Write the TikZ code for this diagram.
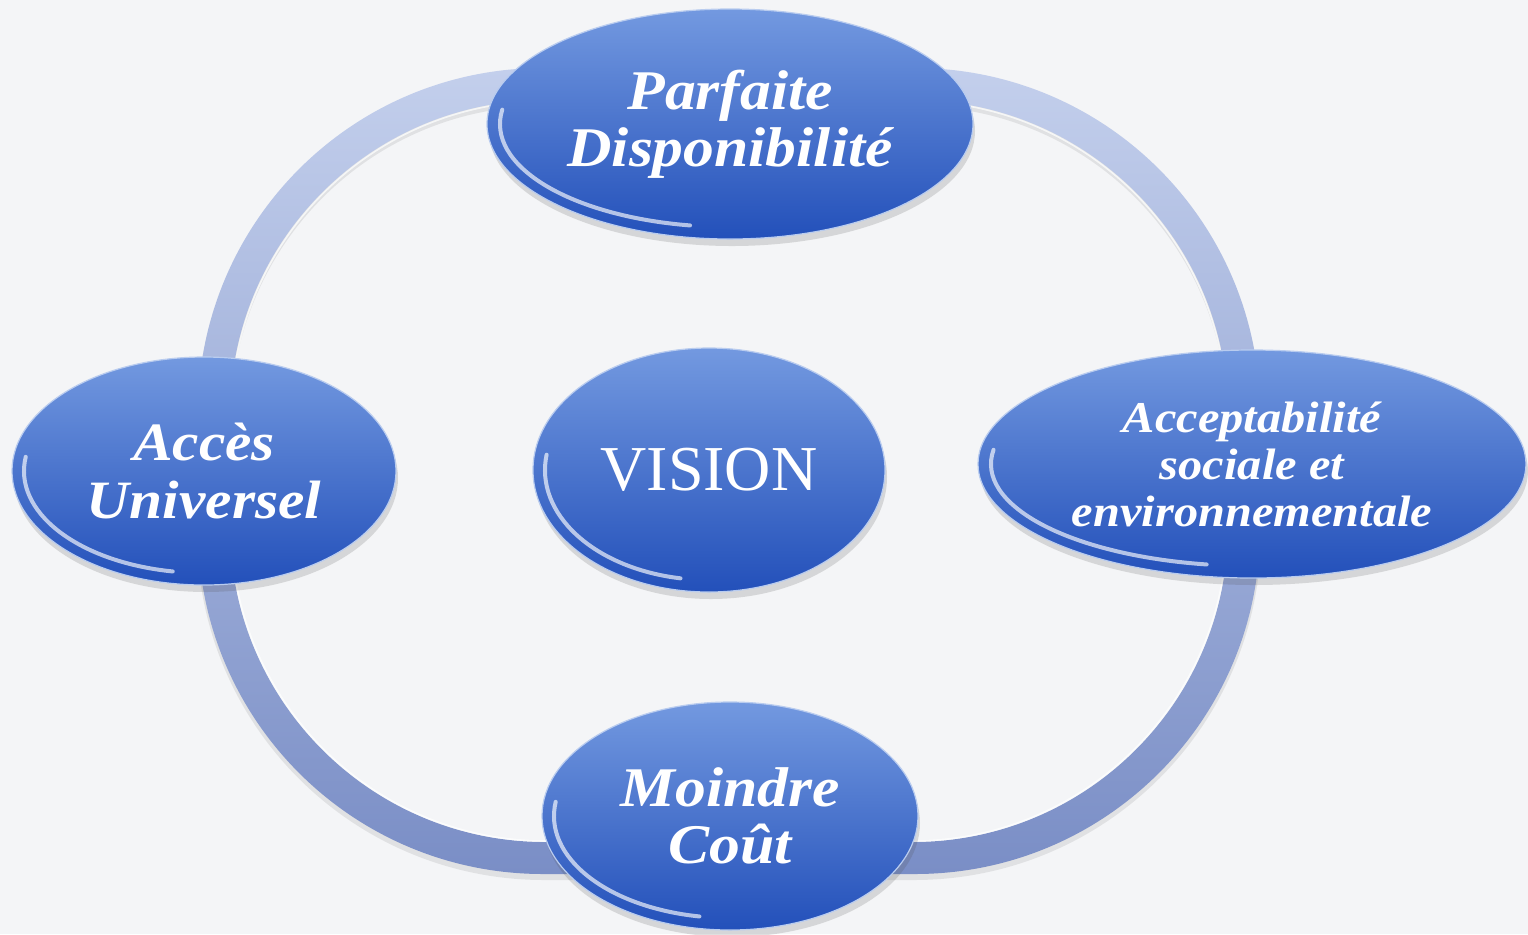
\documentclass[tikz,border=0pt]{standalone}
\usepackage{fontspec}
\setmainfont{Liberation Serif}
\newfontfamily\bubblefont[FakeStretch=1.1]{Liberation Serif}
\usetikzlibrary{positioning,shapes.geometric,shadows}

\definecolor{bgcol}{HTML}{F4F5F7}
\definecolor{ringtop}{HTML}{C3CFEC}
\definecolor{ringbot}{HTML}{7A8EC6}
\definecolor{bluetop}{HTML}{7399E0}
\definecolor{bluemid}{HTML}{4E78D3}
\definecolor{bluebot}{HTML}{2350BA}

\begin{document}
\begin{tikzpicture}[x=0.5pt, y=-0.5pt, every node/.style={text=white}]
\tikzstyle{bubble}=[ellipse, inner sep=0pt, align=center, top color=bluetop, middle color=bluemid, bottom color=bluebot, draw=bluetop!50!white, line width=0.6pt, drop shadow={shadow xshift=1pt, shadow yshift=-3.5pt, opacity=0.18, fill=black!70}]
\tikzstyle{rimline}=[white, line width=2pt, opacity=0.65, line cap=round]

% Background
\fill[bgcol] (0,0) rectangle (1528,934);
\useasboundingbox (0,0) rectangle (1528,934);

% Ring behind the bubbles
\draw[black, opacity=0.08, line width=17pt, rounded corners=165pt] (214,89) rectangle (1244,863);
\shade[even odd rule, top color=ringtop, bottom color=ringbot, rounded corners=172.5pt] (198,68) rectangle (1260,874) [rounded corners=157.5pt] (230,100) rectangle (1228,842);
\draw[white, opacity=0.7, line width=0.8pt, rounded corners=157.5pt] (231,101) rectangle (1227,841);

% Bubbles
\node[bubble, minimum width=243pt, minimum height=115pt, font=\bubblefont\bfseries\itshape\fontsize{28}{28.5}\selectfont] (dispo) at (730,124) {Parfaite\\Disponibilité};
\node[bubble, minimum width=192pt, minimum height=114pt, font=\bubblefont\bfseries\itshape\fontsize{27}{29}\selectfont] (acces) at (204,471) {Accès\\Universel};
\node[bubble, minimum width=176pt, minimum height=122pt, font=\fontsize{32}{34}\selectfont] (vision) at (709,470) {VISION};
\node[bubble, minimum width=274pt, minimum height=114pt, font=\bubblefont\bfseries\itshape\fontsize{22}{23.5}\selectfont] (accept) at (1252,464) {Acceptabilité\\sociale et\\environnementale};
\node[bubble, minimum width=188pt, minimum height=114pt, font=\bubblefont\bfseries\itshape\fontsize{28}{28.5}\selectfont] (cout) at (730,816) {Moindre\\Coût};

% Glossy rims on the lower left
\draw[rimline] (dispo.center) ++(188:230 and 103) arc[start angle=188, end angle=100, x radius=230, y radius=103];
\draw[rimline] (acces.center) ++(188:180 and 102) arc[start angle=188, end angle=100, x radius=180, y radius=102];
\draw[rimline] (vision.center) ++(188:164 and 110) arc[start angle=188, end angle=100, x radius=164, y radius=110];
\draw[rimline] (accept.center) ++(188:261 and 102) arc[start angle=188, end angle=100, x radius=261, y radius=102];
\draw[rimline] (cout.center) ++(188:176 and 102) arc[start angle=188, end angle=100, x radius=176, y radius=102];
\end{tikzpicture}
\end{document}
